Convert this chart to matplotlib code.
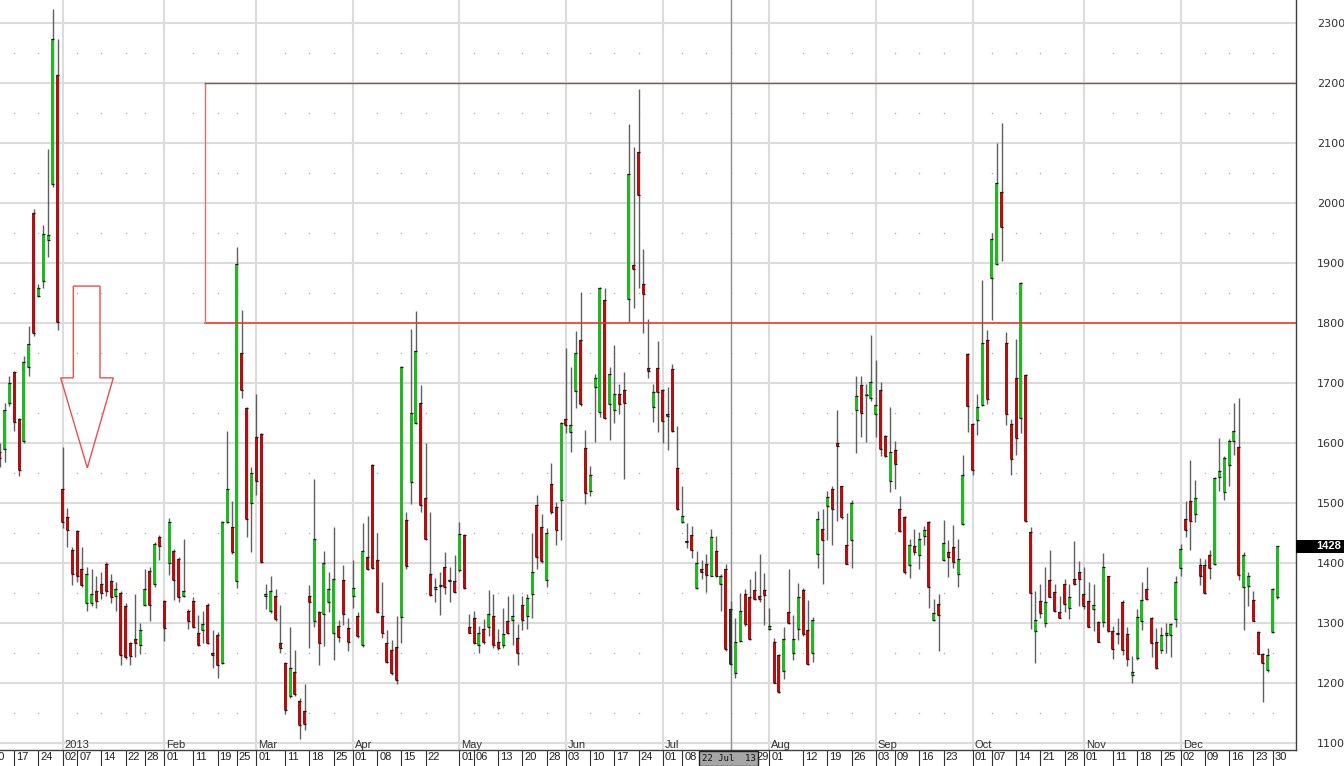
import numpy as np
import pandas as pd
import matplotlib
matplotlib.use('Agg')
import matplotlib.pyplot as plt
import matplotlib.transforms as mtransforms
from matplotlib.patches import Rectangle, Polygon

# NYSE holidays inside the range, so the trading-day axis lines up
holidays = ['2012-12-25', '2013-01-01', '2013-01-21', '2013-02-18', '2013-03-29',
            '2013-05-27', '2013-07-04', '2013-09-02', '2013-11-28', '2013-12-25']

# daily OHLC, 12 Dec 2012 .. 31 Dec 2013
opens = [1585, 1590, 1667, 1719, 1640, 1604, 1727, 1984, 1845, 1871, 1939, 2032, 2213,
         1524, 1477, 1422, 1453, 1390, 1333, 1333, 1353, 1365, 1398, 1371, 1345, 1351,
         1329, 1267, 1273, 1263, 1331, 1387, 1365, 1443, 1337, 1400, 1421, 1407, 1346,
         1321, 1337, 1283, 1289, 1331, 1250, 1280, 1233, 1469, 1461, 1370, 1750, 1659,
         1500, 1610, 1616, 1345, 1320, 1346, 1267, 1233, 1179, 1218, 1170, 1153, 1346,
         1303, 1318, 1315, 1335, 1284, 1296, 1372, 1292, 1346, 1312, 1264, 1411, 1564,
         1406, 1312, 1267, 1256, 1261, 1311, 1472, 1535, 1633, 1667, 1508, 1382, 1357,
         1362, 1393, 1372, 1371, 1388, 1447, 1294, 1308, 1264, 1290, 1294, 1312, 1268,
         1263, 1303, 1305, 1276, 1330, 1312, 1349, 1497, 1461, 1372, 1532, 1493, 1506,
         1641, 1618, 1687, 1772, 1592, 1520, 1693, 1652, 1839, 1665, 1656, 1682, 1689,
         1840, 1897, 2086, 1865, 1726, 1661, 1726, 1689, 1648, 1723, 1559, 1468, 1437,
         1447, 1358, 1391, 1398, 1379, 1421, 1365, 1390, 1324, 1217, 1271, 1348, 1343,
         1356, 1346, 1356, 1290, 1268, 1247, 1221, 1318, 1251, 1290, 1355, 1289, 1250,
         1416, 1457, 1496, 1524, 1600, 1528, 1431, 1438, 1656, 1697, 1680, 1676, 1649,
         1689, 1612, 1537, 1588, 1491, 1477, 1397, 1429, 1413, 1446, 1468, 1305, 1332,
         1406, 1418, 1427, 1382, 1465, 1749, 1632, 1639, 1664, 1772, 1875, 1899, 2018,
         1767, 1632, 1708, 1642, 1714, 1452, 1287, 1337, 1301, 1372, 1352, 1318, 1365,
         1326, 1373, 1386, 1348, 1337, 1324, 1302, 1302, 1378, 1287, 1282, 1336, 1282,
         1214, 1242, 1303, 1357, 1308, 1269, 1256, 1281, 1281, 1307, 1392, 1474, 1503,
         1482, 1397, 1397, 1414, 1398, 1544, 1518, 1564, 1604, 1594, 1360, 1362, 1338,
         1286, 1249, 1222, 1286, 1343]
highs = [1600, 1667, 1712, 1720, 1642, 1745, 1796, 1991, 1866, 1963, 2090, 2324, 2273,
         1594, 1492, 1427, 1455, 1427, 1394, 1390, 1378, 1386, 1402, 1382, 1369, 1353,
         1333, 1269, 1349, 1300, 1390, 1394, 1435, 1447, 1339, 1475, 1423, 1410, 1441,
         1323, 1343, 1313, 1321, 1333, 1289, 1285, 1471, 1621, 1503, 1927, 1822, 1661,
         1560, 1682, 1617, 1366, 1379, 1357, 1331, 1235, 1294, 1256, 1176, 1199, 1364,
         1541, 1320, 1421, 1386, 1461, 1306, 1397, 1308, 1406, 1319, 1467, 1479, 1565,
         1451, 1369, 1289, 1272, 1312, 1728, 1486, 1790, 1821, 1697, 1600, 1486, 1375,
         1386, 1418, 1394, 1414, 1468, 1449, 1316, 1321, 1296, 1307, 1355, 1349, 1291,
         1325, 1345, 1349, 1298, 1345, 1348, 1450, 1514, 1482, 1458, 1567, 1502, 1635,
         1759, 1727, 1787, 1852, 1622, 1562, 1715, 1860, 1858, 1727, 1764, 1699, 1719,
         2132, 2093, 2190, 1923, 1807, 1698, 1771, 1691, 1693, 1732, 1629, 1528, 1467,
         1462, 1421, 1406, 1415, 1457, 1446, 1382, 1398, 1337, 1308, 1351, 1357, 1374,
         1387, 1415, 1384, 1326, 1276, 1249, 1293, 1391, 1313, 1367, 1359, 1339, 1310,
         1487, 1491, 1521, 1528, 1656, 1529, 1484, 1505, 1712, 1712, 1698, 1781, 1738,
         1702, 1613, 1661, 1604, 1512, 1478, 1441, 1457, 1452, 1462, 1470, 1340, 1349,
         1472, 1438, 1464, 1441, 1581, 1751, 1634, 1682, 1872, 1788, 1950, 2100, 2133,
         1785, 1640, 1774, 1868, 1715, 1461, 1354, 1365, 1394, 1422, 1365, 1346, 1373,
         1365, 1437, 1404, 1394, 1369, 1366, 1304, 1417, 1379, 1296, 1308, 1338, 1294,
         1246, 1323, 1368, 1393, 1311, 1292, 1294, 1301, 1300, 1378, 1432, 1503, 1572,
         1538, 1408, 1407, 1422, 1543, 1608, 1579, 1607, 1667, 1675, 1419, 1386, 1354,
         1287, 1250, 1259, 1359, 1429]
lows = [1560, 1569, 1662, 1620, 1545, 1600, 1712, 1778, 1843, 1859, 1911, 2027, 1788,
        1459, 1427, 1364, 1369, 1361, 1321, 1329, 1325, 1341, 1345, 1333, 1321, 1231,
        1241, 1231, 1243, 1249, 1329, 1304, 1361, 1406, 1271, 1381, 1339, 1335, 1343,
        1290, 1292, 1262, 1267, 1265, 1225, 1208, 1232, 1467, 1416, 1359, 1676, 1443,
        1418, 1513, 1401, 1323, 1317, 1304, 1251, 1149, 1176, 1178, 1107, 1122, 1259,
        1294, 1231, 1262, 1319, 1239, 1269, 1297, 1253, 1325, 1275, 1261, 1388, 1390,
        1317, 1275, 1233, 1214, 1198, 1267, 1390, 1499, 1632, 1486, 1439, 1346, 1336,
        1314, 1349, 1336, 1350, 1386, 1357, 1283, 1266, 1250, 1265, 1279, 1258, 1256,
        1258, 1282, 1263, 1230, 1289, 1291, 1308, 1390, 1401, 1360, 1482, 1431, 1439,
        1617, 1585, 1659, 1662, 1499, 1512, 1602, 1644, 1640, 1605, 1633, 1648, 1540,
        1802, 1826, 1858, 1784, 1708, 1636, 1619, 1601, 1588, 1619, 1489, 1467, 1426,
        1408, 1357, 1374, 1352, 1378, 1377, 1321, 1254, 1231, 1208, 1269, 1296, 1272,
        1339, 1336, 1297, 1289, 1200, 1184, 1207, 1298, 1239, 1272, 1279, 1231, 1236,
        1392, 1365, 1438, 1431, 1470, 1473, 1398, 1392, 1583, 1611, 1602, 1671, 1611,
        1579, 1577, 1519, 1523, 1452, 1382, 1375, 1413, 1390, 1431, 1326, 1303, 1254,
        1404, 1377, 1392, 1361, 1463, 1618, 1547, 1613, 1662, 1665, 1806, 1897, 1903,
        1630, 1547, 1580, 1617, 1469, 1290, 1234, 1308, 1294, 1343, 1318, 1308, 1318,
        1307, 1364, 1329, 1324, 1293, 1287, 1268, 1294, 1286, 1241, 1265, 1247, 1229,
        1200, 1239, 1289, 1339, 1244, 1224, 1250, 1250, 1244, 1293, 1378, 1443, 1422,
        1469, 1364, 1349, 1373, 1397, 1521, 1506, 1529, 1581, 1372, 1289, 1328, 1303,
        1248, 1169, 1219, 1283, 1340]
closes = [1575, 1655, 1700, 1635, 1556, 1735, 1765, 1783, 1859, 1948, 1947, 2273, 1802,
          1469, 1455, 1382, 1378, 1363, 1382, 1349, 1337, 1351, 1353, 1343, 1357, 1247,
          1243, 1245, 1267, 1288, 1357, 1331, 1432, 1429, 1292, 1469, 1372, 1343, 1353,
          1303, 1294, 1264, 1299, 1267, 1247, 1231, 1469, 1523, 1418, 1898, 1688, 1474,
          1551, 1537, 1402, 1349, 1354, 1307, 1259, 1156, 1226, 1182, 1130, 1132, 1336,
          1440, 1267, 1400, 1357, 1373, 1277, 1316, 1269, 1358, 1278, 1421, 1390, 1392,
          1319, 1284, 1236, 1217, 1206, 1727, 1396, 1651, 1754, 1497, 1440, 1347, 1361,
          1363, 1361, 1370, 1352, 1449, 1358, 1284, 1267, 1283, 1268, 1315, 1263, 1258,
          1282, 1283, 1312, 1250, 1306, 1342, 1385, 1410, 1403, 1450, 1485, 1455, 1633,
          1630, 1630, 1751, 1665, 1517, 1547, 1708, 1859, 1642, 1715, 1682, 1665, 1667,
          2048, 1890, 2013, 1849, 1720, 1686, 1686, 1637, 1646, 1621, 1490, 1479, 1435,
          1422, 1401, 1386, 1380, 1443, 1379, 1378, 1257, 1232, 1268, 1321, 1298, 1274,
          1340, 1340, 1347, 1296, 1201, 1186, 1274, 1300, 1274, 1343, 1282, 1232, 1305,
          1474, 1438, 1511, 1491, 1595, 1477, 1399, 1501, 1678, 1650, 1681, 1702, 1663,
          1590, 1579, 1586, 1565, 1454, 1385, 1431, 1418, 1440, 1455, 1360, 1317, 1314,
          1433, 1411, 1402, 1407, 1547, 1662, 1555, 1661, 1767, 1673, 1941, 2033, 1960,
          1649, 1573, 1608, 1867, 1471, 1350, 1306, 1317, 1336, 1344, 1321, 1309, 1332,
          1343, 1365, 1374, 1329, 1294, 1330, 1269, 1393, 1287, 1257, 1284, 1256, 1240,
          1219, 1311, 1339, 1340, 1267, 1225, 1281, 1284, 1299, 1369, 1423, 1456, 1471,
          1508, 1379, 1350, 1392, 1542, 1553, 1575, 1604, 1621, 1381, 1414, 1379, 1304,
          1249, 1233, 1247, 1357, 1428]

# weekly / month-start date ticks along the bottom
tick_dates = ['2012-12-10', '2012-12-17', '2012-12-24', '2013-01-02', '2013-01-07',
              '2013-01-14', '2013-01-22', '2013-01-28', '2013-02-01', '2013-02-11',
              '2013-02-19', '2013-02-25', '2013-03-01', '2013-03-11', '2013-03-18',
              '2013-03-25', '2013-04-01', '2013-04-08', '2013-04-15', '2013-04-22',
              '2013-05-01', '2013-05-06', '2013-05-13', '2013-05-20', '2013-05-28',
              '2013-06-03', '2013-06-10', '2013-06-17', '2013-06-24', '2013-07-01',
              '2013-07-08', '2013-07-15', '2013-07-22', '2013-07-29', '2013-08-01',
              '2013-08-12', '2013-08-19', '2013-08-26', '2013-09-03', '2013-09-09',
              '2013-09-16', '2013-09-23', '2013-10-01', '2013-10-07', '2013-10-14',
              '2013-10-21', '2013-10-28', '2013-11-01', '2013-11-11', '2013-11-18',
              '2013-11-25', '2013-12-02', '2013-12-09', '2013-12-16', '2013-12-23',
              '2013-12-30']
month_names = ['2013', 'Feb', 'Mar', 'Apr', 'May', 'Jun', 'Jul', 'Aug', 'Sep', 'Oct',
               'Nov', 'Dec']
cursor_date = '2013-07-22'
zone_low, zone_high = 1800, 2200
y_ticks = list(range(1100, 2301, 100))

GREEN = '#22b822'
RED = '#b01010'
WICK = '#606060'
GRID = '#dcdcdc'

dates = pd.bdate_range('2012-12-10', '2013-12-31', freq='C', holidays=holidays)
pos = {d.strftime('%Y-%m-%d'): k for k, d in enumerate(dates)}
x = np.arange(len(dates))[2:]          # first candle is 12 Dec
o, h, l, c = (np.array(a, float) for a in (opens, highs, lows, closes))

fig = plt.figure(figsize=(13.44, 7.66), dpi=100)
ax = fig.add_axes([0, 16 / 766, 1296 / 1344, 750 / 766])
plt.rcParams['font.family'] = ['Liberation Sans', 'DejaVu Sans']

px = 4.84   # pixels per trading day
xmin = 2 + 0.3 / px
xmax = xmin + 1296 / px
ax.set_xlim(xmin, xmax)
ax.set_ylim(1088.8, 2338.8)

# grid: horizontal every 100, vertical on first trading day of each month
for v in y_ticks:
    ax.axhline(v, color=GRID, lw=1.5, zorder=0)
month_pos = [k for k in range(1, len(dates)) if dates[k].month != dates[k - 1].month]
for p in month_pos:
    ax.axvline(p, color=GRID, lw=1.5, zorder=0)

# dotted half-levels at the weekly ticks
tick_pos = [pos.get(d, 0) for d in tick_dates]
dot_x = [p for p in tick_pos if p not in month_pos]
half = np.arange(1150, 2300, 100)
gx, gy = np.meshgrid(dot_x, half)
ax.scatter(gx.ravel(), gy.ravel(), s=1.2, color='#b0b0b0', lw=0, zorder=0)

# cursor line
cx = pos[cursor_date]
ax.axvline(cx, color='#8c8c8c', lw=1, zorder=2)

# candles
up = c >= o
cols = np.where(up, GREEN, RED).astype(object)
cols[x == cx] = '#303030'
w = 0.62
ax.vlines(x, l, h, color=WICK, lw=1, zorder=3)
body = np.maximum(np.abs(c - o), 1.5)
ax.bar(x, body, bottom=np.minimum(o, c), width=w, color=list(cols), lw=0, zorder=4)
ax.hlines(np.concatenate([o, c]), np.concatenate([x, x]) - w / 2,
          np.concatenate([x, x]) + w / 2, color='#1a1a1a', lw=0.9, zorder=5)

# resistance zone
zx0 = 2 + 205.3 / px
ax.plot([zx0, xmax], [zone_low, zone_low], color='#e83030', lw=1.1, zorder=6)
ax.plot([zx0, zx0], [zone_low, zone_high], color='#e07070', lw=1, zorder=6)
ax.plot([zx0, xmax], [zone_high, zone_high], color='#7a5a5a', lw=1, zorder=6)

# hollow down arrow
arrow = [(17.21, 1862), (22.72, 1862), (22.72, 1709), (25.47, 1709), (20.1, 1559),
         (14.6, 1709), (17.21, 1709)]
ax.add_patch(Polygon(arrow, closed=True, fill=False, ec='#e85050', lw=1, zorder=6))

# axes frame
for s in ['left', 'top']:
    ax.spines[s].set_visible(False)
for s in ['right', 'bottom']:
    ax.spines[s].set_color('#404040')
    ax.spines[s].set_linewidth(1)

ax.yaxis.tick_right()
ax.set_yticks(y_ticks)
ax.tick_params(axis='y', length=0, pad=15, labelsize=8, labelcolor='#303030')
ax.set_xticks([])

# date ticks (the ones under the cursor box are hidden by it)
bl = mtransforms.blended_transform_factory(ax.transData, ax.transAxes)
box_l, box_r = 6.5, 5.7
for d, p in zip(tick_dates, tick_pos):
    ax.plot([p, p], [0, -15 / 750], transform=bl, color='#303030', lw=0.8,
            clip_on=False)
    if -box_l < p - cx <= 0:
        continue
    ax.annotate(d[-2:], xy=(p, 0), xycoords=bl, xytext=(2, -2),
                textcoords='offset pixels', ha='left', va='top', fontsize=8,
                color='#202020', annotation_clip=False)
for name, p in zip(month_names, month_pos):
    ax.annotate(name, xy=(p, 0), xycoords=bl, xytext=(2, 2),
                textcoords='offset pixels', ha='left', va='baseline', fontsize=8,
                color='#303030', annotation_clip=False)

# cursor date box
ax.add_patch(Rectangle((cx - box_l, -16 / 750), box_l + box_r, 15 / 750, transform=bl,
                       fc='#a6a6a6', ec='#222222', lw=1, clip_on=False, zorder=10))
ax.text(cx - (box_l - box_r) / 2, -8.5 / 750, dates[cx].strftime('%d %b  %y'),
        transform=bl, ha='center', va='center', fontsize=6.5,
        family='DejaVu Sans Mono', color='#111111', zorder=11)

# last price tag
br = mtransforms.blended_transform_factory(ax.transAxes, ax.transData)
ax.add_patch(Rectangle((1.0, c[-1] - 11.5), 48 / 1296, 23, transform=br, fc='black',
                       ec='none', clip_on=False, zorder=10))
ax.text(1341 / 1296, c[-1], f'{c[-1]:.0f}', transform=br, ha='right', va='center',
        fontsize=8, color='white', fontweight='bold', zorder=11)

fig.savefig('out.png', dpi=100, facecolor='white')
